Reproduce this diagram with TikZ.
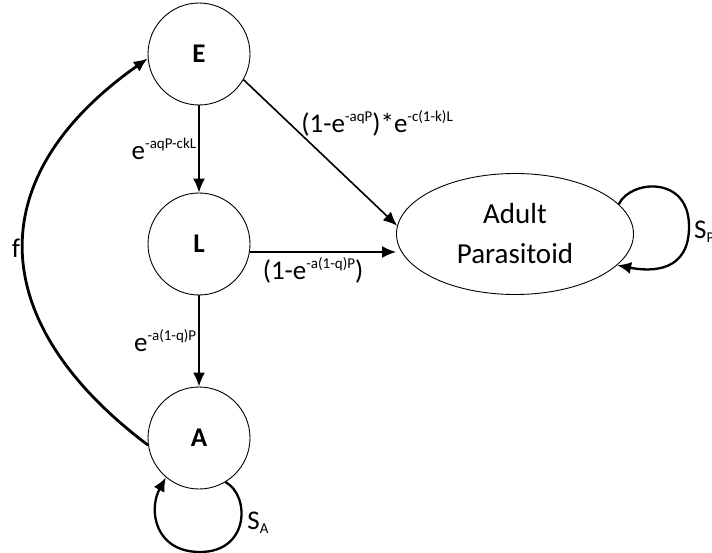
\documentclass[tikz,border=0pt]{standalone}
\usepackage{fontspec}
\setmainfont{Carlito}
\usepackage{tikz}
\usetikzlibrary{arrows.meta,positioning,shapes.geometric}
\newcommand{\sps}[1]{\raisebox{11pt}{\fontsize{15}{15}\selectfont #1}}
\newcommand{\sbs}[1]{\raisebox{-4pt}{\fontsize{15}{15}\selectfont #1}}

\begin{document}
\begin{tikzpicture}[x=1pt,y=-1pt,
	state/.style={circle,draw,line width=0.9pt,minimum size=102pt,inner sep=0pt,font=\fontsize{27}{32}\selectfont\bfseries},
	adult/.style={ellipse,draw,line width=0.9pt,minimum width=237pt,minimum height=121pt,inner sep=0pt,align=center,font=\fontsize{29}{40}\selectfont},
	trans/.style={line width=1.6pt,-{Latex[length=14pt,width=12pt]}},
	selfloop/.style={line width=2.3pt,-{Latex[length=14pt,width=12pt]}},
	lbl/.style={font=\fontsize{27}{32}\selectfont,inner sep=2pt}]
	\useasboundingbox (0,0) rectangle (712,553);
	\node[state] (E) at (199,54) {E};
	\node[state] (L) at (199,244) {L};
	\node[state] (A) at (199,438) {A};
	\node[adult] (P) at (515,234) {Adult\\Parasitoid};
	
	\draw[trans] (E) -- node[lbl,left] {e\sps{-aqP-ckL}} (L);
	\draw[trans] (L) -- node[lbl,left] {e\sps{-a(1-q)P}} (A);
	\draw[trans] (E.-30) -- node[lbl,pos=0.3,right=9pt] {(1-e\sps{-aqP})*e\sps{-c(1-k)L}} (P.176);
	\coordinate (lout) at ([yshift=-8pt]L.east);
	\draw[trans] (lout) -- node[lbl,pos=0.43,below=3pt] {(1-e\sps{-a(1-q)P})} (lout -| P.west);
	
	% reproduction back to eggs
	\draw[selfloop,line width=2.8pt] (A.188) .. controls (-18,320) and (-18,175) .. node[lbl,left] {f} (E.185);
	
	% survival loops
	\draw[selfloop] (A.-59) .. controls (250,495) and (250,552) .. (200,552) .. controls (155,552) and (148,510) .. (A.-130);
	\node[lbl] (sA) at (258,523) {S\sbs{A}};
	\draw[selfloop] (P.16) .. controls (630,180) and (688,175) .. (689,225) .. controls (690,272) and (652,272) .. (P.-17);
	\node[lbl,anchor=west] (sP) at (692,232) {S\sbs{P}};
\end{tikzpicture}
\end{document}
